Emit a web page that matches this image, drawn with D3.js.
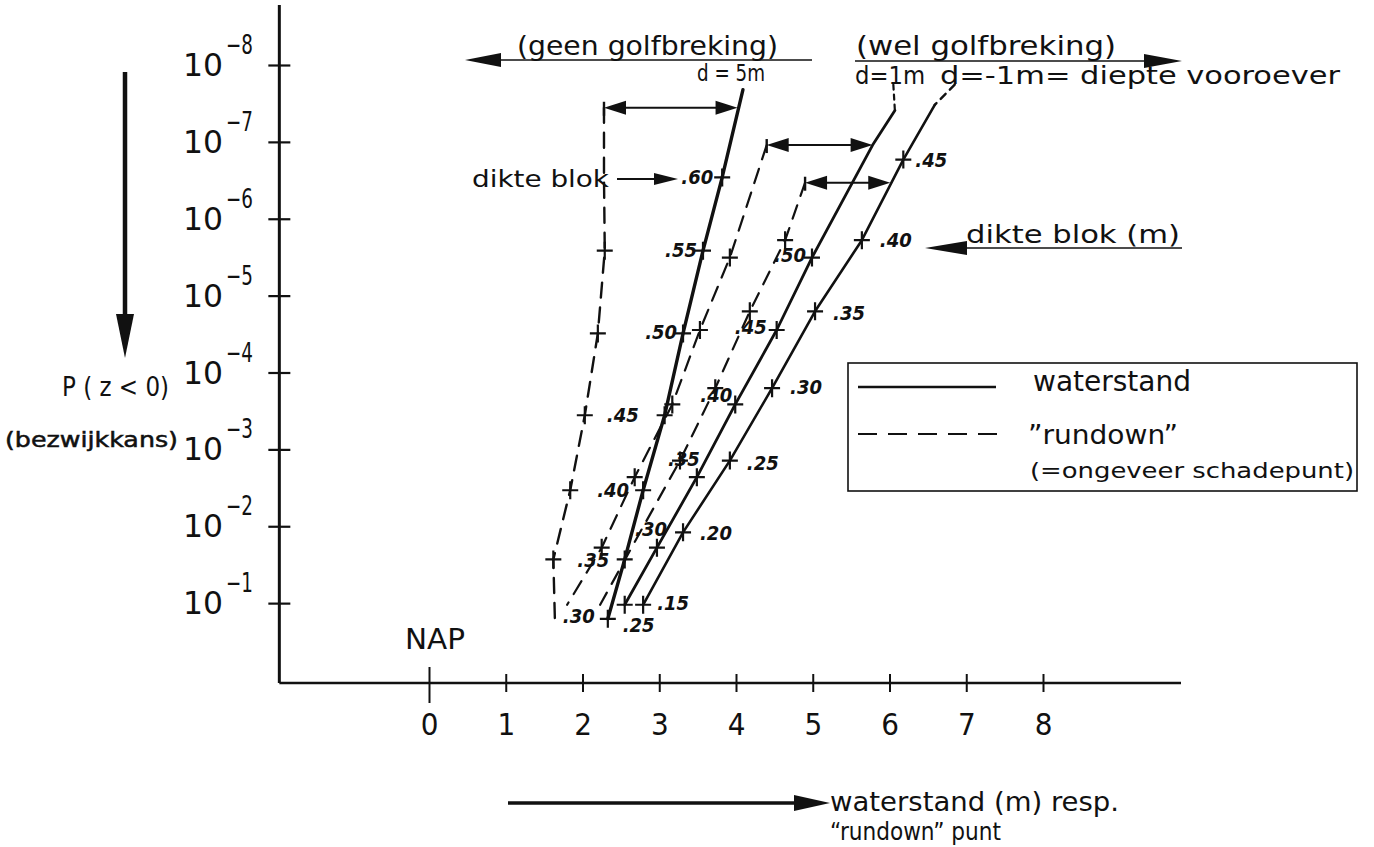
<!DOCTYPE html>
<html>
<head>
<meta charset="utf-8">
<script src="https://cdn.jsdelivr.net/npm/d3@7"></script>
<style>
  body { margin: 0; background: #fff; }
  svg { display: block; }
  text { font-family: "DejaVu Sans Condensed", "DejaVu Sans", sans-serif; fill: #111; }
</style>
</head>
<body>
<svg id="chart" width="1374" height="847"></svg>
<script>
// ---- axis values ----
const xTicks = [0, 1, 2, 3, 4, 5, 6, 7, 8];          // waterstand / rundown level (m t.o.v. NAP)
const yExponents = [-8, -7, -6, -5, -4, -3, -2, -1];  // P(z<0) decades

// ---- d = 5 m (geen golfbreking) ----
const thickD5   = [0.60, 0.55, 0.50, 0.45, 0.40, 0.35, 0.30];
const probD5    = [2.9e-7, 2.6e-6, 3.1e-5, 3.6e-4, 3.4e-3, 2.7e-2, 0.16];
const waterD5   = [3.82, 3.57, 3.31, 3.07, 2.79, 2.55, 2.33];
const rundownD5 = [2.28, 2.29, 2.20, 2.03, 1.84, 1.62, 1.64];
const runMarkD5 = [0, 1, 1, 1, 1, 1, 0];

// ---- d = 1 m (wel golfbreking) ----
const thickD1   = [0.50, 0.45, 0.40, 0.35, 0.30, 0.25];
const probD1    = [3.2e-6, 2.8e-5, 2.6e-4, 2.3e-3, 1.9e-2, 0.105];
const waterD1   = [4.99, 4.53, 3.99, 3.49, 2.97, 2.55];
const rundownD1 = [3.92, 3.53, 3.17, 2.68, 2.25, 1.80];
const runMarkD1 = [1, 1, 1, 1, 1, 0];

// ---- d = -1 m (wel golfbreking) ----
const thickDm1   = [0.45, 0.40, 0.35, 0.30, 0.25, 0.20, 0.15];
const probDm1    = [1.7e-7, 1.9e-6, 1.6e-5, 1.6e-4, 1.4e-3, 1.2e-2, 0.105];
const waterDm1   = [6.18, 5.64, 5.03, 4.47, 3.92, 3.31, 2.79];
const rundownDm1 = [null, 4.64, 4.18, 3.73, 3.27, 2.75, 2.23];
const runMarkDm1 = [0, 1, 1, 1, 1, 0, 0];

// upper ends of the curves [x, P]
const waterTopD5  = [[4.09, 2.1e-8]];
const waterTopD1  = [[6.07, 3.9e-8], [5.78, 1.1e-7]];
const waterTopDm1 = [[6.59, 3.3e-8]];
const waterTailD1  = [[6.05, 1.8e-8], [6.07, 3.9e-8]];   // dotted continuation
const waterTailDm1 = [[6.85, 1.8e-8], [6.59, 3.3e-8]];
const runTopD5  = [[2.28, 3.6e-8]];
const runTopD1  = [[4.40, 1.1e-7]];
const runTopDm1 = [[4.90, 3.4e-7]];

// distance rundown -> waterstand brackets
const bracketP     = [3.6e-8, 1.1e-7, 3.4e-7];
const bracketLeft  = [2.28, 4.40, 4.90];
const bracketRight = [4.02, 5.78, 6.01];

// ---- scales ----
const svg = d3.select("#chart");
const x = d3.scaleLinear().domain([0, 8]).range([429, 1043]);
const y = d3.scaleLog().domain([1e-8, 1]).range([65, 680]);
const axisY = 683;
const axisX = x(-1.95);

const ink = "#111";

function label(px, py, size, str, width, opts) {
  const t = svg.append("text").attr("x", px).attr("y", py).attr("font-size", size).text(str);
  if (width) t.attr("textLength", width).attr("lengthAdjust", "spacingAndGlyphs");
  if (opts) Object.entries(opts).forEach(([k, v]) => t.attr(k, v));
  return t;
}

// ---- axes ----
svg.append("line").attr("x1", axisX).attr("x2", 1181).attr("y1", axisY).attr("y2", axisY)
  .attr("stroke", ink).attr("stroke-width", 2.6);
svg.append("line").attr("x1", axisX).attr("x2", axisX).attr("y1", 5).attr("y2", axisY)
  .attr("stroke", ink).attr("stroke-width", 3);

const gx = svg.append("g").attr("transform", `translate(0,${axisY})`)
  .call(d3.axisBottom(x).tickValues(xTicks).tickFormat(d3.format("d")).tickPadding(24));
gx.select(".domain").remove();
gx.selectAll(".tick line").attr("y1", d => d === 0 ? -16 : -9).attr("y2", d => d === 0 ? 20 : 9)
  .attr("stroke", ink).attr("stroke-width", 2);
gx.selectAll(".tick text").attr("font-size", 31)
  .attr("font-family", "DejaVu Sans Condensed, DejaVu Sans").attr("fill", ink);

const yTickVals = yExponents.map(e => Math.pow(10, e));
const gy = svg.append("g").attr("transform", `translate(${axisX},0)`)
  .call(d3.axisLeft(y).tickValues(yTickVals).tickFormat(""));
gy.select(".domain").remove();
gy.selectAll(".tick line").attr("x1", -11).attr("x2", 11).attr("stroke", ink).attr("stroke-width", 2.2);

// decade labels 10^-n
yExponents.forEach(e => {
  const ty = y(Math.pow(10, e));
  label(183, ty + 11, 32, "10", 40);
  label(226, ty - 11, 26, "\u2212" + (-e), 27);
});

// ---- axis titles ----
label(62, 396, 27, "P ( z < 0)", 107);
label(5, 447, 22, "(bezwijkkans)", 173, { "stroke": ink, "stroke-width": 0.5 });
label(405, 649, 28, "NAP", 60);

label(830, 811, 27, "waterstand (m) resp.", 289);
label(830, 840, 24, "\u201Crundown\u201D punt", 171);

// ---- arrows ----
function arrowHead(tipX, tipY, dir, len, half) {
  let pts;
  if (dir === "left")  pts = [[tipX, tipY], [tipX + len, tipY - half], [tipX + len, tipY + half]];
  if (dir === "right") pts = [[tipX, tipY], [tipX - len, tipY - half], [tipX - len, tipY + half]];
  if (dir === "down")  pts = [[tipX, tipY], [tipX - half, tipY - len], [tipX + half, tipY - len]];
  svg.append("path").attr("d", d3.line()(pts) + "Z").attr("fill", ink);
}
function hLine(x1, x2, yy, w) {
  svg.append("line").attr("x1", x1).attr("x2", x2).attr("y1", yy).attr("y2", yy)
    .attr("stroke", ink).attr("stroke-width", w);
}

// left vertical arrow (decreasing probability downwards)
svg.append("line").attr("x1", 125).attr("x2", 125).attr("y1", 72).attr("y2", 330)
  .attr("stroke", ink).attr("stroke-width", 4.5);
arrowHead(125, 358, "down", 44, 9);

// bottom arrow
hLine(508, 805, 803, 3.5);
arrowHead(830, 803, "right", 36, 8);

// header arrows
hLine(480, 812, 60, 1.6);
arrowHead(465, 60, "left", 36, 7);
hLine(855, 1150, 61, 1.6);
arrowHead(1182, 61, "right", 38, 7);

label(517, 55, 27, "(geen golfbreking)", 261);
label(697, 81, 23, "d = 5m", 68);
label(856, 55, 27, "(wel golfbreking)", 260);
label(855, 84, 24, "d=1m", 70);
label(940, 84, 24, "d=-1m= diepte vooroever", 400);

// "dikte blok" pointers
label(472, 187, 23, "dikte blok", 137);
hLine(617, 660, 179, 2);
arrowHead(678, 179, "right", 24, 6);

label(966, 243, 24, "dikte blok (m)", 214);
hLine(960, 1182, 248, 1.6);
arrowHead(925, 248, "left", 42, 7);

// ---- curves ----
const line = d3.line().x(d => x(d[0])).y(d => y(d[1]));
const zip = (xs, ps) => xs.map((v, i) => [v, ps[i]]).filter(d => d[0] !== null);

function drawCurve(pts, dashed, w) {
  svg.append("path").attr("d", line(pts)).attr("fill", "none").attr("stroke", ink)
    .attr("stroke-width", w).attr("stroke-linejoin", "round").attr("stroke-linecap", "round")
    .attr("stroke-dasharray", dashed ? dashed : null);
}

// waterstand (solid)
drawCurve(waterTopD5.concat(zip(waterD5, probD5)), null, 3.4);
drawCurve(waterTopD1.concat(zip(waterD1, probD1)), null, 2.8);
drawCurve(waterTopDm1.concat(zip(waterDm1, probDm1)), null, 2.6);
drawCurve(waterTailD1, "5,5", 2.2);
drawCurve(waterTailDm1, "7,6", 2.4);

// rundown (dashed)
drawCurve(runTopD5.concat(zip(rundownD5, probD5)), "15,10", 2.4);
drawCurve(runTopD1.concat(zip(rundownD1, probD1)), "15,10", 2.2);
drawCurve(runTopDm1.concat(zip(rundownDm1, probDm1)), "14,10", 2.2);

// brackets between rundown and waterstand
bracketP.forEach((p, i) => {
  const yy = y(p), xl = x(bracketLeft[i]), xr = x(bracketRight[i]);
  hLine(xl + 14, xr - 14, yy, 2);
  arrowHead(xl, yy, "left", 22, 7);
  arrowHead(xr, yy, "right", 22, 7);
  svg.append("line").attr("x1", xl).attr("x2", xl).attr("y1", yy - 6).attr("y2", yy + 8)
    .attr("stroke", ink).attr("stroke-width", 2.4);
});

// "+" markers for each block thickness
function cross(px, py) {
  svg.append("path").attr("d", `M${px - 8},${py}H${px + 8}M${px},${py - 9}V${py + 9}`)
    .attr("stroke", ink).attr("stroke-width", 2.2).attr("fill", "none");
}
waterD5.forEach((v, i) => cross(x(v), y(probD5[i])));
waterD1.forEach((v, i) => cross(x(v), y(probD1[i])));
waterDm1.forEach((v, i) => cross(x(v), y(probDm1[i])));
rundownD5.forEach((v, i) => { if (runMarkD5[i]) cross(x(v), y(probD5[i])); });
rundownD1.forEach((v, i) => { if (runMarkD1[i]) cross(x(v), y(probD1[i])); });
rundownDm1.forEach((v, i) => { if (runMarkDm1[i] && v !== null) cross(x(v), y(probDm1[i])); });

// block thickness labels
const conds = {
  d5:  { t: thickD5,  p: probD5,  w: waterD5,  r: rundownD5 },
  d1:  { t: thickD1,  p: probD1,  w: waterD1,  r: rundownD1 },
  dm1: { t: thickDm1, p: probDm1, w: waterDm1, r: rundownDm1 }
};
const labelPlacement = [
  ["d5", 0, "w", "end", -9, 7], ["d5", 1, "w", "end", -6, 6], ["d5", 2, "w", "end", -6, 6],
  ["d5", 3, "r", "start", 22, 7], ["d5", 4, "r", "start", 27, 7], ["d5", 5, "r", "start", 24, 8],
  ["d5", 6, "r", "start", 8, 4],
  ["d1", 0, "w", "end", -6, 4], ["d1", 1, "w", "end", -10, 4], ["d1", 2, "w", "end", -3, -2],
  ["d1", 3, "w", "end", 3, -11], ["d1", 4, "w", "end", 10, -12], ["d1", 5, "w", "start", -2, 27],
  ["dm1", 0, "w", "start", 12, 7], ["dm1", 1, "w", "start", 18, 7], ["dm1", 2, "w", "start", 18, 9],
  ["dm1", 3, "w", "start", 18, 6], ["dm1", 4, "w", "start", 17, 9], ["dm1", 5, "w", "start", 17, 8],
  ["dm1", 6, "w", "start", 14, 5]
];
const fmt = d => d3.format(".2f")(d).slice(1);
labelPlacement.forEach(([c, i, which, anchor, dx, dy]) => {
  const s = conds[c];
  svg.append("text")
    .attr("x", x(s[which][i]) + dx).attr("y", y(s.p[i]) + dy)
    .attr("text-anchor", anchor).attr("font-size", 20)
    .attr("font-family", "DejaVu Sans")
    .attr("font-weight", "bold").attr("font-style", "italic")
    .text(fmt(s.t[i]));
});

// ---- legend ----
svg.append("rect").attr("x", 848).attr("y", 363).attr("width", 509).attr("height", 128)
  .attr("fill", "none").attr("stroke", ink).attr("stroke-width", 1.6);
hLine(858, 996, 387, 2.6);
svg.append("line").attr("x1", 858).attr("x2", 1002).attr("y1", 434).attr("y2", 434)
  .attr("stroke", ink).attr("stroke-width", 2.2).attr("stroke-dasharray", "19,11");
label(1033, 391, 28, "waterstand", 158);
label(1028, 444, 27, "\u201Drundown\u201D", 150);
label(1030, 478, 22, "(=ongeveer schadepunt)", 324);
</script>
</body>
</html>
